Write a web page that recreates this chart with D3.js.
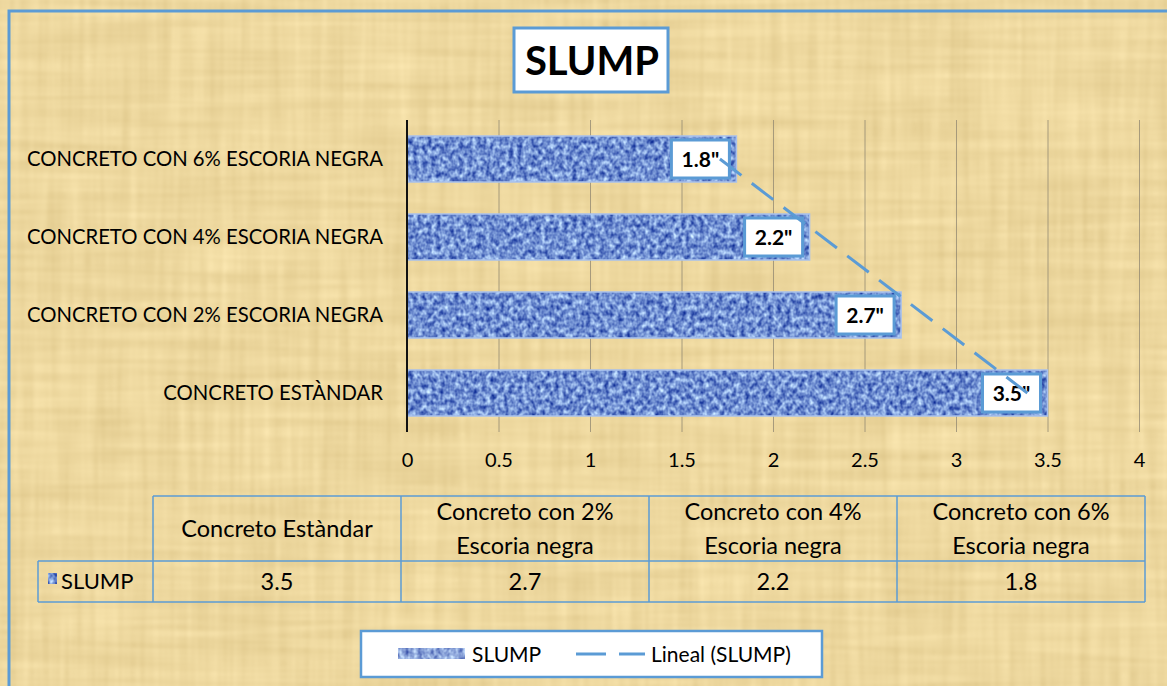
<!DOCTYPE html>
<html>
<head>
<meta charset="utf-8">
<script src="https://cdn.jsdelivr.net/npm/d3@7/dist/d3.min.js"></script>
<style>
  html, body { margin: 0; padding: 0; background: #fff; }
  svg { display: block; font-family: Lato, "Open Sans", sans-serif; }
</style>
</head>
<body>
<div id="chart"></div>
<script>
// datos (orden de la tabla)
const categorias = ["Concreto Estàndar", "Concreto con 2% Escoria negra", "Concreto con 4% Escoria negra", "Concreto con 6% Escoria negra"];
const etiquetasEje = ["CONCRETO ESTÀNDAR", "CONCRETO CON 2% ESCORIA NEGRA", "CONCRETO CON 4% ESCORIA NEGRA", "CONCRETO CON 6% ESCORIA NEGRA"];
const slump = [3.5, 2.7, 2.2, 1.8];
const etiquetasValor = ["3.5\"", "2.7\"", "2.2\"", "1.8\""];
const ticksX = [0, 0.5, 1, 1.5, 2, 2.5, 3, 3.5, 4];

const W = 1167, H = 686;
const BLUE = "#5b9bd5";
const PLOT = { left: 407, right: 1139, top: 120, bottom: 432 };

const svg = d3.select("#chart").append("svg")
    .attr("width", W)
    .attr("height", H);

const defs = svg.append("defs");

// textura papiro
const paper = defs.append("filter").attr("id", "paper")
    .attr("filterUnits", "userSpaceOnUse")
    .attr("color-interpolation-filters", "sRGB")
    .attr("x", 0).attr("y", 0).attr("width", W).attr("height", H);
paper.append("feTurbulence").attr("type", "fractalNoise")
    .attr("baseFrequency", "0.006 0.1").attr("numOctaves", 2).attr("seed", 3).attr("result", "h");
paper.append("feTurbulence").attr("type", "fractalNoise")
    .attr("baseFrequency", "0.1 0.006").attr("numOctaves", 2).attr("seed", 8).attr("result", "v");
paper.append("feComposite").attr("in", "h").attr("in2", "v")
    .attr("operator", "arithmetic").attr("k1", 0).attr("k2", 0.5).attr("k3", 0.5).attr("k4", 0)
    .attr("result", "n");
paper.append("feColorMatrix").attr("in", "n").attr("type", "matrix")
    .attr("values", "0.15 0 0 0 0.855  0.17 0 0 0 0.76  0.2 0 0 0 0.52  0 0 0 0 1");

// textura de las barras
const tela = defs.append("filter").attr("id", "tela")
    .attr("filterUnits", "userSpaceOnUse")
    .attr("color-interpolation-filters", "sRGB")
    .attr("x", 0).attr("y", 0).attr("width", W).attr("height", H);
tela.append("feTurbulence").attr("type", "fractalNoise")
    .attr("baseFrequency", "0.22 0.18").attr("numOctaves", 2).attr("seed", 5).attr("result", "t");
tela.append("feColorMatrix").attr("in", "t").attr("type", "matrix")
    .attr("values", "1.0 0 0 0 -0.06  1.0 0 0 0 0.06  0.6 0 0 0 0.52  0 0 0 0 1")
    .attr("result", "c");
tela.append("feComposite").attr("in", "c").attr("in2", "SourceGraphic").attr("operator", "in");

// fondo
svg.append("rect").attr("x", 9).attr("y", 11).attr("width", W).attr("height", H)
    .attr("filter", "url(#paper)");
svg.append("rect").attr("x", 9).attr("y", 11).attr("width", W + 20).attr("height", H + 20)
    .attr("fill", "none").attr("stroke", BLUE).attr("stroke-width", 3);

// titulo
svg.append("rect").attr("x", 514).attr("y", 28).attr("width", 154).attr("height", 64)
    .attr("fill", "#fff").attr("stroke", BLUE).attr("stroke-width", 3);
svg.append("text").attr("x", 592).attr("y", 61).attr("dy", "0.36em")
    .attr("text-anchor", "middle").attr("font-size", 40).attr("font-weight", "bold")
    .text("SLUMP");

// escalas
const x = d3.scaleLinear().domain([0, 4]).range([PLOT.left, PLOT.right]);
const ordenY = etiquetasEje.slice().reverse();
const y = d3.scaleBand().domain(ordenY)
    .range([PLOT.top, PLOT.bottom])
    .paddingInner(0.41).paddingOuter(0.205);

const datos = etiquetasEje.map((c, i) => ({ cat: c, valor: slump[i], etiqueta: etiquetasValor[i], idx: i }));

// rejilla + ticks
const ejeX = svg.append("g")
    .attr("transform", `translate(0,${PLOT.top})`)
    .call(d3.axisBottom(x).tickValues(ticksX).tickSize(PLOT.bottom - PLOT.top).tickPadding(21)
        .tickFormat(d => d3.format("")(d)));
ejeX.select(".domain").remove();
ejeX.selectAll(".tick line").attr("stroke", "#8f8570").attr("stroke-opacity", 0.75);
ejeX.selectAll(".tick text").attr("font-size", 20).attr("fill", "#000")
    .attr("font-family", "Lato, sans-serif");

// barras
svg.append("g").selectAll("rect").data(datos).enter().append("rect")
    .attr("x", x(0))
    .attr("y", d => y(d.cat))
    .attr("width", d => x(d.valor) - x(0))
    .attr("height", y.bandwidth())
    .attr("fill", "#5a7cc2")
    .attr("filter", "url(#tela)");
svg.append("g").selectAll("rect").data(datos).enter().append("rect")
    .attr("x", x(0))
    .attr("y", d => y(d.cat))
    .attr("width", d => x(d.valor) - x(0))
    .attr("height", y.bandwidth())
    .attr("fill", "none")
    .attr("stroke", "#a9c1ec")
    .attr("stroke-width", 1.5);

// eje de categorias
const ejeY = svg.append("g")
    .attr("transform", `translate(${PLOT.left},0)`)
    .call(d3.axisLeft(y).tickSize(0).tickPadding(24));
ejeY.select(".domain").attr("stroke", "#111").attr("stroke-width", 2)
    .attr("d", `M0,${PLOT.top}V${PLOT.bottom}`);
ejeY.selectAll(".tick text").attr("font-size", 20.3).attr("fill", "#000")
    .attr("font-family", "Lato, sans-serif");

// etiquetas de datos
const lab = svg.append("g").selectAll("g").data(datos).enter().append("g")
    .attr("transform", d => `translate(${x(d.valor) - 7},${y(d.cat) + y.bandwidth() / 2})`);
lab.append("rect").attr("x", -58).attr("y", -19).attr("width", 58).attr("height", 38)
    .attr("fill", "#fff").attr("stroke", BLUE).attr("stroke-width", 3);
lab.append("text").attr("x", -29).attr("dy", "0.36em").attr("text-anchor", "middle")
    .attr("font-size", 21).attr("font-weight", "bold").text(d => d.etiqueta);

// linea de tendencia (regresion lineal sobre el indice de categoria)
const xs = datos.map((d, i) => i + 1);
const mx = d3.mean(xs), my = d3.mean(slump);
const pend = d3.sum(xs, (v, i) => (v - mx) * (slump[i] - my)) / d3.sum(xs, v => (v - mx) * (v - mx));
const tend = datos.map((d, i) => ({ cat: d.cat, v: my + pend * (xs[i] - mx) }));
svg.append("path")
    .datum([tend[tend.length - 1], tend[0]])
    .attr("d", d3.line().x(d => x(d.v)).y(d => y(d.cat) + y.bandwidth() / 2))
    .attr("fill", "none").attr("stroke", BLUE).attr("stroke-width", 3)
    .attr("stroke-dasharray", "27,13");

// tabla de datos
const tabla = svg.append("g").attr("font-size", 23.5);
const colX = d3.scaleBand().domain(categorias).range([153, 1145]);
const T = { top: 496, mid: 561, bot: 602, left: 38 };
const linea = (x1, y1, x2, y2) => tabla.append("line")
    .attr("x1", x1).attr("y1", y1).attr("x2", x2).attr("y2", y2)
    .attr("stroke", BLUE).attr("stroke-width", 1.5);
linea(153, T.top, 1145, T.top);
linea(T.left, T.mid, 1145, T.mid);
linea(T.left, T.bot, 1145, T.bot);
linea(T.left, T.mid, T.left, T.bot);
categorias.forEach(c => linea(colX(c), T.top, colX(c), T.bot));
linea(1145, T.top, 1145, T.bot);

categorias.forEach((c, i) => {
    const cx = colX(c) + colX.bandwidth() / 2;
    const m = c.match(/^(Concreto con \d+%) (.*)$/);
    const t = tabla.append("text").attr("text-anchor", "middle");
    if (m) {
        t.append("tspan").attr("x", cx).attr("y", 512).attr("dy", "0.36em").text(m[1]);
        t.append("tspan").attr("x", cx).attr("y", 546).attr("dy", "0.36em").text(m[2]);
    } else {
        t.attr("x", cx).attr("y", 529).attr("dy", "0.36em").text(c);
    }
    tabla.append("text").attr("x", cx).attr("y", 582).attr("dy", "0.36em")
        .attr("text-anchor", "middle").text(slump[i]);
});
tabla.append("rect").attr("x", 48).attr("y", 573).attr("width", 9).attr("height", 11)
    .attr("fill", "#5a7cc2").attr("filter", "url(#tela)");
tabla.append("text").attr("x", 61).attr("y", 581).attr("dy", "0.36em").attr("font-size", 22).text("SLUMP");

// leyenda
const ley = svg.append("g");
ley.append("rect").attr("x", 361).attr("y", 631).attr("width", 461).attr("height", 46)
    .attr("fill", "#fff").attr("stroke", BLUE).attr("stroke-width", 2.5);
ley.append("rect").attr("x", 398).attr("y", 648).attr("width", 67).attr("height", 11)
    .attr("fill", "#5a7cc2").attr("filter", "url(#tela)").attr("opacity", 0.8);
ley.append("text").attr("x", 472).attr("y", 654).attr("dy", "0.36em").attr("font-size", 21).text("SLUMP");
ley.append("line").attr("x1", 576).attr("x2", 645).attr("y1", 654).attr("y2", 654)
    .attr("stroke", BLUE).attr("stroke-width", 3).attr("stroke-dasharray", "30,13");
ley.append("text").attr("x", 651).attr("y", 654).attr("dy", "0.36em").attr("font-size", 21).text("Lineal (SLUMP)");
</script>
</body>
</html>
